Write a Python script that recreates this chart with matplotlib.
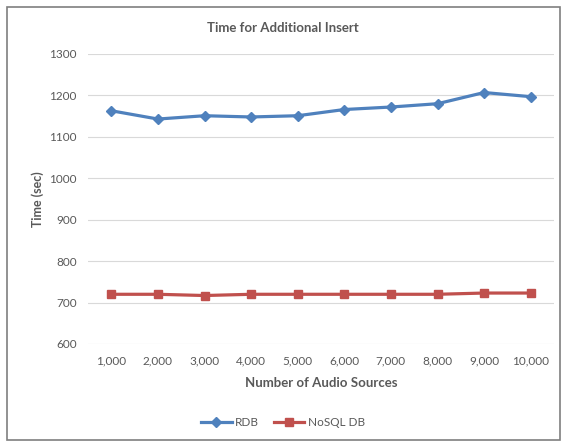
import matplotlib.pyplot as plt
from matplotlib.patches import Rectangle

# Insert timings per number of audio sources
sources = ['1,000', '2,000', '3,000', '4,000', '5,000',
           '6,000', '7,000', '8,000', '9,000', '10,000']
rdb = [1163, 1143, 1151, 1148, 1151, 1166, 1172, 1180, 1207, 1197]
nosql = [720, 720, 717, 720, 720, 720, 720, 720, 723, 723]
yticks = [600, 700, 800, 900, 1000, 1100, 1200, 1300]

plt.rcParams['font.family'] = ['Lato', 'DejaVu Sans']
txt = '#595959'

fig = plt.figure(figsize=(5.66, 4.46), dpi=100)
ax = fig.add_axes([88 / 566, 102 / 446, 466 / 566, 290 / 446])

x = range(len(sources))
ax.plot(x, rdb, color='#4F81BD', lw=2.3, marker='D', ms=5.5, label='RDB')
ax.plot(x, nosql, color='#C0504D', lw=2.3, marker='s', ms=6, label='NoSQL DB')

ax.set_xlim(-0.5, len(sources) - 0.5)
ax.set_ylim(600, 1300)
ax.set_yticks(yticks)
ax.set_xticks(list(x))
ax.set_xticklabels(sources)
ax.tick_params(length=0, labelsize=8.5, colors=txt, pad=8)
ax.grid(axis='y', color='#d9d9d9', lw=0.8)
ax.set_axisbelow(True)
for s in ax.spines.values():
    s.set_visible(False)

ax.set_xlabel('Number of Audio Sources', fontsize=9.5, fontweight='bold', color=txt, labelpad=8)
ax.set_ylabel('Time (sec)', fontsize=9, fontweight='bold', color=txt, labelpad=4)
fig.text(0.5, 1 - 28 / 446, 'Time for Additional Insert', ha='center', va='center',
         fontsize=9.5, fontweight='bold', color=txt)

fig.legend(loc='center', bbox_to_anchor=(0.5, 1 - 423 / 446), ncol=2, frameon=False,
           fontsize=8.5, labelcolor=txt, handlelength=2.6, columnspacing=1.2,
           handletextpad=0.3)

# outer chart border
fig.add_artist(Rectangle((7 / 566, 6 / 446), 553 / 566, 433 / 446, transform=fig.transFigure,
                         fill=False, ec='#7f7f7f', lw=1.2))

fig.savefig('out.png', dpi=100)
